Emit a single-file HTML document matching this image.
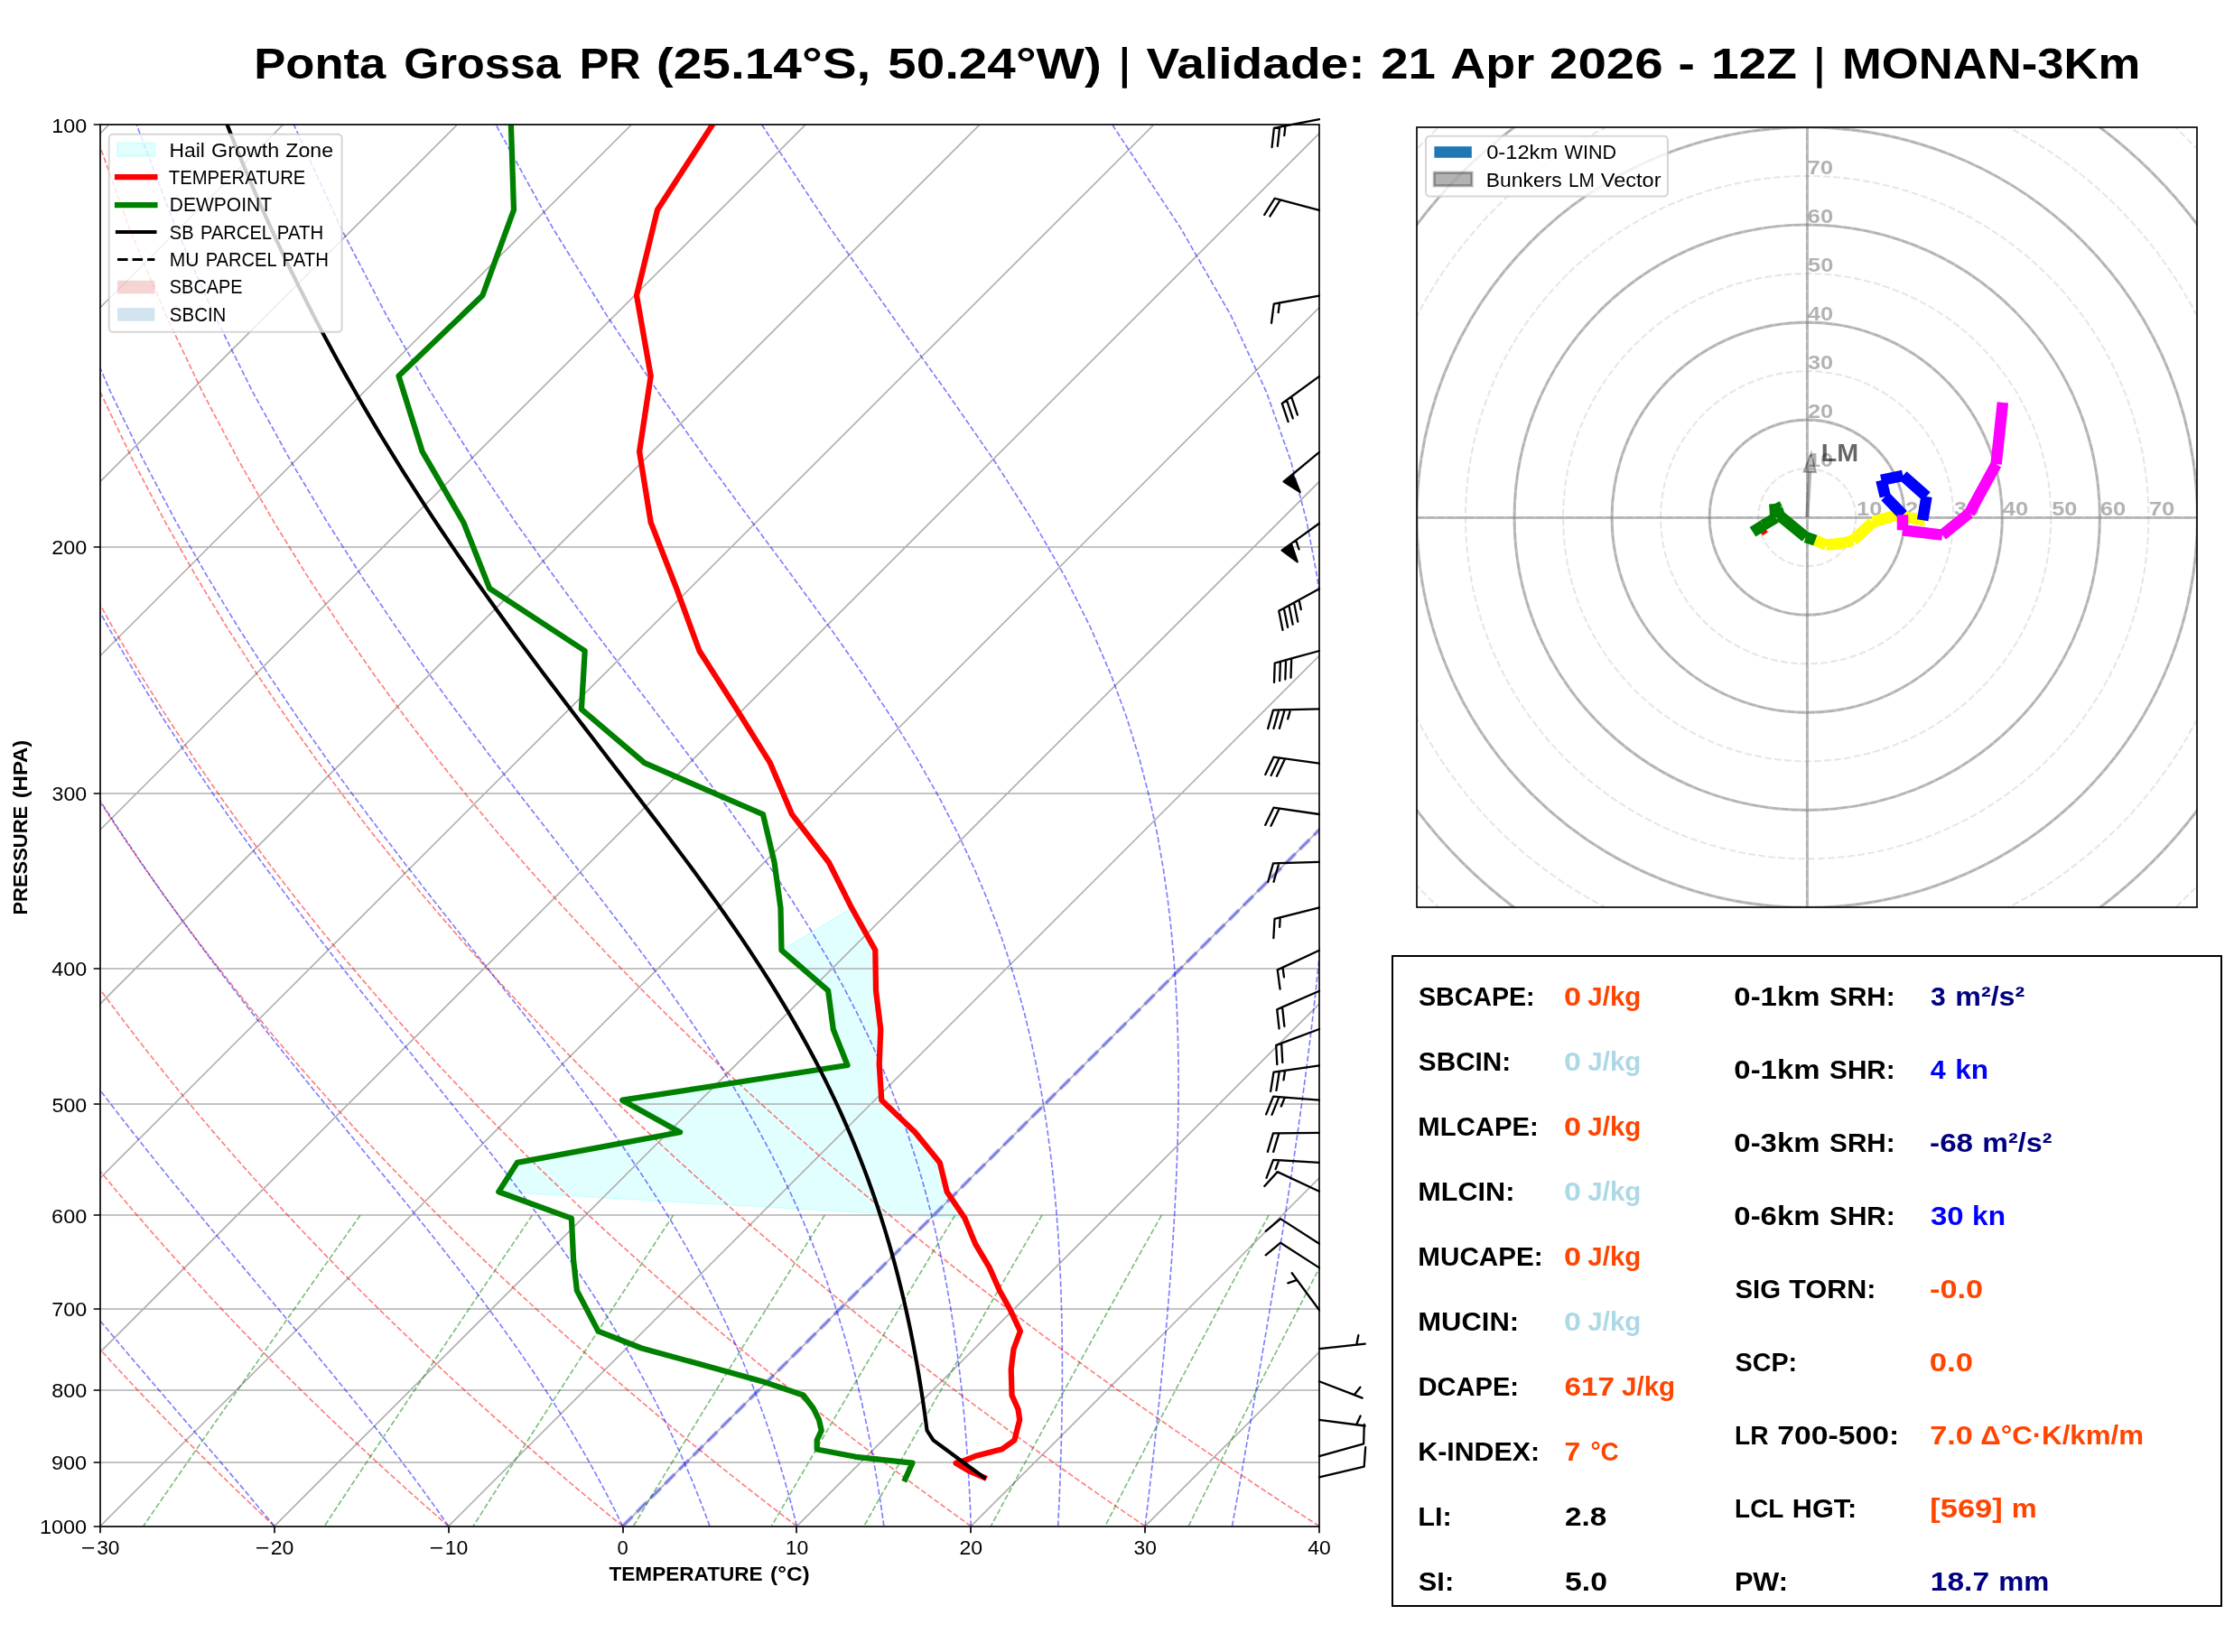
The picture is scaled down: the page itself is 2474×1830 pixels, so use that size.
<!DOCTYPE html>
<html><head><meta charset="utf-8"><title>Skew-T Ponta Grossa PR</title><style>html,body{margin:0;padding:0;background:#fff}svg{display:block;will-change:transform}svg text{font-family:"Liberation Sans",sans-serif}</style></head><body>
<svg width="2474" height="1830" viewBox="0 0 2474 1830" font-family="'Liberation Sans', sans-serif">
<rect width="2474" height="1830" fill="#fff"/>
<defs><clipPath id="ca"><rect x="111" y="138.2" width="1350" height="1552.4"/></clipPath>
<clipPath id="ch"><rect x="1569" y="141" width="864.4" height="864.4"/></clipPath></defs>
<text y="86.5" font-size="48.58" font-weight="bold" fill="#000"><tspan x="281.21" textLength="146.12" lengthAdjust="spacingAndGlyphs">Ponta</tspan> <tspan x="447.36" textLength="173.47" lengthAdjust="spacingAndGlyphs">Grossa</tspan> <tspan x="641.73" textLength="67.96" lengthAdjust="spacingAndGlyphs">PR</tspan> <tspan x="726.72" textLength="237.71" lengthAdjust="spacingAndGlyphs">(25.14°S,</tspan> <tspan x="983.13" textLength="236.75" lengthAdjust="spacingAndGlyphs">50.24°W)</tspan> <tspan x="1239.87" textLength="11.24" lengthAdjust="spacingAndGlyphs">|</tspan> <tspan x="1269.6" textLength="242" lengthAdjust="spacingAndGlyphs">Validade:</tspan> <tspan x="1529.19" textLength="60.72" lengthAdjust="spacingAndGlyphs">21</tspan> <tspan x="1606.31" textLength="92.84" lengthAdjust="spacingAndGlyphs">Apr</tspan> <tspan x="1716.02" textLength="125.72" lengthAdjust="spacingAndGlyphs">2026</tspan> <tspan x="1858.54" textLength="18.35" lengthAdjust="spacingAndGlyphs">-</tspan> <tspan x="1894.98" textLength="94.92" lengthAdjust="spacingAndGlyphs">12Z</tspan> <tspan x="2009.16" textLength="11.24" lengthAdjust="spacingAndGlyphs">|</tspan> <tspan x="2039.94" textLength="330.37" lengthAdjust="spacingAndGlyphs">MONAN-3Km</tspan></text>
<g clip-path="url(#ca)" fill="none">
<path d="M943.2 1005.8 L969.3 1052.6 L970 1097.4 L975.3 1140.3 L973.7 1179 L976.3 1218.7 L1013.4 1254.3 L1040.8 1287.9 L1048.7 1320.2 L1068.5 1349.6 L552.3 1320.2 L572.8 1287.9 L753.1 1254.3 L689.2 1218.7 L938.5 1180 L922.8 1140.3 L917.1 1097.4 L865.5 1052.6 Z" fill="#00ffff" fill-opacity="0.115" stroke="#00ffff" stroke-opacity="0.2" stroke-width="1"/>
<path d="M111 138 H1461 M111 606 H1461 M111 879 H1461 M111 1073 H1461 M111 1223 H1461 M111 1346 H1461 M111 1450 H1461 M111 1540 H1461 M111 1620 H1461 M111 1691 H1461 M-1624.71 1690.6 L-72.31 138.2 M-1431.86 1690.6 L120.54 138.2 M-1239 1690.6 L313.4 138.2 M-1046.14 1690.6 L506.26 138.2 M-853.29 1690.6 L699.11 138.2 M-660.43 1690.6 L891.97 138.2 M-467.57 1690.6 L1084.83 138.2 M-274.71 1690.6 L1277.69 138.2 M-81.86 1690.6 L1470.54 138.2 M111 1690.6 L1663.4 138.2 M303.86 1690.6 L1856.26 138.2 M496.71 1690.6 L2049.11 138.2 M689.57 1690.6 L2241.97 138.2 M882.43 1690.6 L2434.83 138.2 M1075.29 1690.6 L2627.69 138.2 M1268.14 1690.6 L2820.54 138.2 M1461 1690.6 L3013.4 138.2" stroke="#b0b0b0" stroke-width="1.67"/>
<path d="M111 1690.6 L98.73 1678.1 L86.36 1665.37 L73.89 1652.39 L61.32 1639.15 L48.64 1625.65 L35.86 1611.88 L22.98 1597.82 L9.98 1583.45 L-3.13 1568.78 L-16.35 1553.78 L-29.68 1538.43 L-43.14 1522.73 L-56.71 1506.66 L-70.41 1490.19 L-84.23 1473.31 L-98.18 1456 L-112.26 1438.23 L-126.48 1419.98 L-140.83 1401.22 L-155.31 1381.93 L-169.94 1362.07 L-184.7 1341.6 L-199.61 1320.49 L-214.67 1298.7 L-229.87 1276.19 L-245.22 1252.89 L-260.72 1228.76 L-276.37 1203.74 L-292.17 1177.75 L-308.12 1150.72 L-324.21 1122.56 L-340.44 1093.17 L-356.82 1062.44 L-373.31 1030.24 L-389.93 996.43 L-406.65 960.84 L-423.45 923.25 L-440.31 883.45 L-457.18 841.16 L-474.03 796.03 L-490.79 747.66 L-507.36 695.55 L-523.63 639.07 L-539.42 577.42 L-554.5 509.57 L-568.51 434.11 L-580.92 349.14 L-590.9 251.89 L-597.1 138.2 M303.86 1690.6 L290.56 1678.1 L277.16 1665.37 L263.65 1652.39 L250.01 1639.15 L236.26 1625.65 L222.39 1611.88 L208.4 1597.82 L194.28 1583.45 L180.03 1568.78 L165.65 1553.78 L151.13 1538.43 L136.48 1522.73 L121.68 1506.66 L106.74 1490.19 L91.66 1473.31 L76.42 1456 L61.03 1438.23 L45.48 1419.98 L29.77 1401.22 L13.9 1381.93 L-2.14 1362.07 L-18.36 1341.6 L-34.75 1320.49 L-51.32 1298.7 L-68.08 1276.19 L-85.02 1252.89 L-102.15 1228.76 L-119.47 1203.74 L-136.99 1177.75 L-154.7 1150.72 L-172.61 1122.56 L-190.72 1093.17 L-209.03 1062.44 L-227.53 1030.24 L-246.22 996.43 L-265.09 960.84 L-284.13 923.25 L-303.32 883.45 L-322.63 841.16 L-342.03 796.03 L-361.46 747.66 L-380.86 695.55 L-400.12 639.07 L-419.09 577.42 L-437.58 509.57 L-455.27 434.11 L-471.69 349.14 L-486.08 251.89 L-497.21 138.2 M496.71 1690.6 L482.4 1678.1 L467.97 1665.37 L453.4 1652.39 L438.71 1639.15 L423.88 1625.65 L408.92 1611.88 L393.82 1597.82 L378.57 1583.45 L363.18 1568.78 L347.64 1553.78 L331.94 1538.43 L316.09 1522.73 L300.08 1506.66 L283.9 1490.19 L267.55 1473.31 L251.03 1456 L234.33 1438.23 L217.44 1419.98 L200.37 1401.22 L183.11 1381.93 L165.65 1362.07 L147.98 1341.6 L130.11 1320.49 L112.02 1298.7 L93.72 1276.19 L75.19 1252.89 L56.43 1228.76 L37.43 1203.74 L18.2 1177.75 L-1.28 1150.72 L-21.02 1122.56 L-41 1093.17 L-61.25 1062.44 L-81.75 1030.24 L-102.52 996.43 L-123.54 960.84 L-144.81 923.25 L-166.33 883.45 L-188.08 841.16 L-210.02 796.03 L-232.13 747.66 L-254.35 695.55 L-276.61 639.07 L-298.77 577.42 L-320.67 509.57 L-342.04 434.11 L-362.46 349.14 L-381.26 251.89 L-397.32 138.2 M689.57 1690.6 L674.24 1678.1 L658.77 1665.37 L643.16 1652.39 L627.41 1639.15 L611.51 1625.65 L595.45 1611.88 L579.24 1597.82 L562.87 1583.45 L546.33 1568.78 L529.63 1553.78 L512.76 1538.43 L495.71 1522.73 L478.47 1506.66 L461.05 1490.19 L443.44 1473.31 L425.63 1456 L407.62 1438.23 L389.4 1419.98 L370.97 1401.22 L352.32 1381.93 L333.44 1362.07 L314.33 1341.6 L294.97 1320.49 L275.37 1298.7 L255.51 1276.19 L235.39 1252.89 L215 1228.76 L194.34 1203.74 L173.38 1177.75 L152.13 1150.72 L130.58 1122.56 L108.72 1093.17 L86.53 1062.44 L64.03 1030.24 L41.19 996.43 L18.01 960.84 L-5.5 923.25 L-29.34 883.45 L-53.52 841.16 L-78.02 796.03 L-102.81 747.66 L-127.85 695.55 L-153.09 639.07 L-178.44 577.42 L-203.75 509.57 L-228.8 434.11 L-253.23 349.14 L-276.44 251.89 L-297.43 138.2 M882.43 1690.6 L866.08 1678.1 L849.58 1665.37 L832.92 1652.39 L816.11 1639.15 L799.13 1625.65 L781.98 1611.88 L764.66 1597.82 L747.16 1583.45 L729.49 1568.78 L711.62 1553.78 L693.57 1538.43 L675.32 1522.73 L656.87 1506.66 L638.21 1490.19 L619.33 1473.31 L600.24 1456 L580.92 1438.23 L561.37 1419.98 L541.57 1401.22 L521.53 1381.93 L501.23 1362.07 L480.67 1341.6 L459.83 1320.49 L438.72 1298.7 L417.31 1276.19 L395.6 1252.89 L373.58 1228.76 L351.24 1203.74 L328.57 1177.75 L305.55 1150.72 L282.18 1122.56 L258.44 1093.17 L234.32 1062.44 L209.81 1030.24 L184.9 996.43 L159.57 960.84 L133.82 923.25 L107.64 883.45 L81.03 841.16 L53.99 796.03 L26.52 747.66 L-1.35 695.55 L-29.58 639.07 L-58.12 577.42 L-86.84 509.57 L-115.57 434.11 L-144 349.14 L-171.62 251.89 L-197.54 138.2 M1075.29 1690.6 L1057.92 1678.1 L1040.39 1665.37 L1022.68 1652.39 L1004.8 1639.15 L986.75 1625.65 L968.51 1611.88 L950.08 1597.82 L931.46 1583.45 L912.64 1568.78 L893.62 1553.78 L874.38 1538.43 L854.93 1522.73 L835.26 1506.66 L815.36 1490.19 L795.22 1473.31 L774.85 1456 L754.22 1438.23 L733.33 1419.98 L712.17 1401.22 L690.74 1381.93 L669.02 1362.07 L647.01 1341.6 L624.69 1320.49 L602.06 1298.7 L579.1 1276.19 L555.81 1252.89 L532.16 1228.76 L508.14 1203.74 L483.75 1177.75 L458.96 1150.72 L433.77 1122.56 L408.16 1093.17 L382.1 1062.44 L355.59 1030.24 L328.6 996.43 L301.12 960.84 L273.14 923.25 L244.63 883.45 L215.59 841.16 L186 796.03 L155.85 747.66 L125.15 695.55 L93.93 639.07 L62.21 577.42 L30.08 509.57 L-2.33 434.11 L-34.77 349.14 L-66.8 251.89 L-97.65 138.2 M1268.14 1690.6 L1249.76 1678.1 L1231.19 1665.37 L1212.44 1652.39 L1193.5 1639.15 L1174.37 1625.65 L1155.04 1611.88 L1135.5 1597.82 L1115.76 1583.45 L1095.79 1568.78 L1075.61 1553.78 L1055.2 1538.43 L1034.55 1522.73 L1013.66 1506.66 L992.52 1490.19 L971.12 1473.31 L949.45 1456 L927.51 1438.23 L905.29 1419.98 L882.77 1401.22 L859.95 1381.93 L836.81 1362.07 L813.35 1341.6 L789.56 1320.49 L765.41 1298.7 L740.9 1276.19 L716.01 1252.89 L690.73 1228.76 L665.04 1203.74 L638.93 1177.75 L612.38 1150.72 L585.37 1122.56 L557.88 1093.17 L529.88 1062.44 L501.37 1030.24 L472.31 996.43 L442.68 960.84 L412.46 923.25 L381.62 883.45 L350.14 841.16 L318 796.03 L285.18 747.66 L251.66 695.55 L217.44 639.07 L182.53 577.42 L146.99 509.57 L110.91 434.11 L74.46 349.14 L38.02 251.89 L2.24 138.2 M1461 1690.6 L1441.6 1678.1 L1422 1665.37 L1402.2 1652.39 L1382.2 1639.15 L1361.99 1625.65 L1341.57 1611.88 L1320.92 1597.82 L1300.05 1583.45 L1278.95 1568.78 L1257.6 1553.78 L1236.01 1538.43 L1214.16 1522.73 L1192.05 1506.66 L1169.67 1490.19 L1147.01 1473.31 L1124.06 1456 L1100.81 1438.23 L1077.25 1419.98 L1053.37 1401.22 L1029.16 1381.93 L1004.61 1362.07 L979.7 1341.6 L954.42 1320.49 L928.75 1298.7 L902.69 1276.19 L876.22 1252.89 L849.31 1228.76 L821.95 1203.74 L794.12 1177.75 L765.8 1150.72 L736.97 1122.56 L707.6 1093.17 L677.67 1062.44 L647.15 1030.24 L616.01 996.43 L584.23 960.84 L551.78 923.25 L518.61 883.45 L484.7 841.16 L450.01 796.03 L414.5 747.66 L378.16 695.55 L340.95 639.07 L302.86 577.42 L263.91 509.57 L224.14 434.11 L183.69 349.14 L142.84 251.89 L102.13 138.2" stroke="#f00" stroke-opacity="0.5" stroke-width="1.67" stroke-dasharray="6.17 2.67"/>
<path d="M111 1690.6 L100.08 1678.1 L88.96 1665.37 L77.66 1652.39 L66.16 1639.15 L54.47 1625.65 L42.59 1611.88 L30.52 1597.82 L18.26 1583.45 L5.82 1568.78 L-6.81 1553.78 L-19.62 1538.43 L-32.61 1522.73 L-45.78 1506.66 L-59.12 1490.19 L-72.65 1473.31 L-86.35 1456 L-100.23 1438.23 L-114.28 1419.98 L-128.5 1401.22 L-142.89 1381.93 L-157.46 1362.07 L-172.19 1341.6 L-187.09 1320.49 L-202.17 1298.7 L-217.41 1276.19 L-232.81 1252.89 L-248.38 1228.76 L-264.12 1203.74 L-280.02 1177.75 L-296.08 1150.72 L-312.29 1122.56 L-328.66 1093.17 L-345.17 1062.44 L-361.82 1030.24 L-378.59 996.43 L-395.48 960.84 L-412.45 923.25 L-429.49 883.45 L-446.56 841.16 L-463.61 796.03 L-480.58 747.66 L-497.37 695.55 L-513.87 639.07 L-529.92 577.42 L-545.27 509.57 L-559.57 434.11 L-572.3 349.14 L-582.63 251.89 L-589.21 138.2 M303.86 1690.6 L293.52 1678.1 L282.9 1665.37 L272.01 1652.39 L260.84 1639.15 L249.39 1625.65 L237.65 1611.88 L225.64 1597.82 L213.34 1583.45 L200.77 1568.78 L187.91 1553.78 L174.77 1538.43 L161.36 1522.73 L147.66 1506.66 L133.7 1490.19 L119.47 1473.31 L104.96 1456 L90.19 1438.23 L75.16 1419.98 L59.87 1401.22 L44.33 1381.93 L28.53 1362.07 L12.48 1341.6 L-3.81 1320.49 L-20.35 1298.7 L-37.13 1276.19 L-54.15 1252.89 L-71.42 1228.76 L-88.91 1203.74 L-106.64 1177.75 L-124.61 1150.72 L-142.8 1122.56 L-161.22 1093.17 L-179.87 1062.44 L-198.73 1030.24 L-217.81 996.43 L-237.09 960.84 L-256.56 923.25 L-276.2 883.45 L-295.99 841.16 L-315.89 796.03 L-335.85 747.66 L-355.8 695.55 L-375.65 639.07 L-395.26 577.42 L-414.43 509.57 L-432.85 434.11 L-450.06 349.14 L-465.32 251.89 L-477.43 138.2 M496.71 1690.6 L488.02 1678.1 L478.99 1665.37 L469.63 1652.39 L459.92 1639.15 L449.85 1625.65 L439.41 1611.88 L428.6 1597.82 L417.4 1583.45 L405.81 1568.78 L393.81 1553.78 L381.41 1538.43 L368.6 1522.73 L355.38 1506.66 L341.73 1490.19 L327.67 1473.31 L313.19 1456 L298.28 1438.23 L282.96 1419.98 L267.23 1401.22 L251.08 1381.93 L234.53 1362.07 L217.58 1341.6 L200.23 1320.49 L182.5 1298.7 L164.38 1276.19 L145.89 1252.89 L127.02 1228.76 L107.8 1203.74 L88.22 1177.75 L68.28 1150.72 L48 1122.56 L27.38 1093.17 L6.42 1062.44 L-14.87 1030.24 L-36.49 996.43 L-58.43 960.84 L-80.68 923.25 L-103.24 883.45 L-126.08 841.16 L-149.18 796.03 L-172.52 747.66 L-196.04 695.55 L-219.67 639.07 L-243.3 577.42 L-266.77 509.57 L-289.83 434.11 L-312.1 349.14 L-332.94 251.89 L-351.27 138.2 M689.57 1690.6 L683.47 1678.1 L677.08 1665.37 L670.37 1652.39 L663.33 1639.15 L655.95 1625.65 L648.19 1611.88 L640.04 1597.82 L631.49 1583.45 L622.5 1568.78 L613.06 1553.78 L603.15 1538.43 L592.74 1522.73 L581.82 1506.66 L570.35 1490.19 L558.32 1473.31 L545.7 1456 L532.49 1438.23 L518.66 1419.98 L504.2 1401.22 L489.09 1381.93 L473.32 1362.07 L456.89 1341.6 L439.8 1320.49 L422.03 1298.7 L403.6 1276.19 L384.52 1252.89 L364.78 1228.76 L344.4 1203.74 L323.39 1177.75 L301.77 1150.72 L279.55 1122.56 L256.75 1093.17 L233.38 1062.44 L209.45 1030.24 L184.99 996.43 L160 960.84 L134.49 923.25 L108.47 883.45 L81.97 841.16 L54.99 796.03 L27.55 747.66 L-0.31 695.55 L-28.55 639.07 L-57.1 577.42 L-85.85 509.57 L-114.6 434.11 L-143.07 349.14 L-170.73 251.89 L-196.69 138.2 M786 1690.6 L781.39 1678.1 L776.53 1665.37 L771.4 1652.39 L765.99 1639.15 L760.28 1625.65 L754.25 1611.88 L747.88 1597.82 L741.14 1583.45 L734 1568.78 L726.46 1553.78 L718.47 1538.43 L710 1522.73 L701.04 1506.66 L691.54 1490.19 L681.47 1473.31 L670.8 1456 L659.51 1438.23 L647.54 1419.98 L634.87 1401.22 L621.47 1381.93 L607.3 1362.07 L592.34 1341.6 L576.57 1320.49 L559.95 1298.7 L542.47 1276.19 L524.12 1252.89 L504.9 1228.76 L484.8 1203.74 L463.82 1177.75 L441.99 1150.72 L419.31 1122.56 L395.8 1093.17 L371.49 1062.44 L346.4 1030.24 L320.55 996.43 L293.98 960.84 L266.69 923.25 L238.72 883.45 L210.09 841.16 L180.81 796.03 L150.91 747.66 L120.4 695.55 L89.34 639.07 L57.77 577.42 L25.78 509.57 L-6.49 434.11 L-38.78 349.14 L-70.65 251.89 L-101.32 138.2 M882.43 1690.6 L879.3 1678.1 L875.98 1665.37 L872.46 1652.39 L868.72 1639.15 L864.75 1625.65 L860.52 1611.88 L856.03 1597.82 L851.24 1583.45 L846.13 1568.78 L840.69 1553.78 L834.88 1538.43 L828.67 1522.73 L822.04 1506.66 L814.94 1490.19 L807.35 1473.31 L799.22 1456 L790.5 1438.23 L781.16 1419.98 L771.14 1401.22 L760.4 1381.93 L748.88 1362.07 L736.52 1341.6 L723.28 1320.49 L709.09 1298.7 L693.91 1276.19 L677.67 1252.89 L660.35 1228.76 L641.89 1203.74 L622.26 1177.75 L601.44 1150.72 L579.43 1122.56 L556.21 1093.17 L531.8 1062.44 L506.23 1030.24 L479.52 996.43 L451.71 960.84 L422.85 923.25 L392.97 883.45 L362.12 841.16 L330.33 796.03 L297.66 747.66 L264.12 695.55 L229.77 639.07 L194.63 577.42 L158.8 509.57 L122.36 434.11 L85.52 349.14 L48.63 251.89 L12.36 138.2 M978.86 1690.6 L977.13 1678.1 L975.27 1665.37 L973.27 1652.39 L971.13 1639.15 L968.82 1625.65 L966.34 1611.88 L963.67 1597.82 L960.8 1583.45 L957.7 1568.78 L954.36 1553.78 L950.76 1538.43 L946.87 1522.73 L942.66 1506.66 L938.11 1490.19 L933.18 1473.31 L927.84 1456 L922.05 1438.23 L915.77 1419.98 L908.93 1401.22 L901.5 1381.93 L893.41 1362.07 L884.6 1341.6 L874.98 1320.49 L864.5 1298.7 L853.06 1276.19 L840.57 1252.89 L826.95 1228.76 L812.08 1203.74 L795.88 1177.75 L778.25 1150.72 L759.1 1122.56 L738.35 1093.17 L715.93 1062.44 L691.8 1030.24 L665.94 996.43 L638.34 960.84 L609.04 923.25 L578.08 883.45 L545.54 841.16 L511.48 796.03 L476 747.66 L439.17 695.55 L401.06 639.07 L361.75 577.42 L321.31 509.57 L279.83 434.11 L237.45 349.14 L194.44 251.89 L151.31 138.2 M1075.29 1690.6 L1074.81 1678.1 L1074.26 1665.37 L1073.63 1652.39 L1072.92 1639.15 L1072.12 1625.65 L1071.21 1611.88 L1070.2 1597.82 L1069.06 1583.45 L1067.79 1568.78 L1066.38 1553.78 L1064.81 1538.43 L1063.06 1522.73 L1061.11 1506.66 L1058.96 1490.19 L1056.56 1473.31 L1053.9 1456 L1050.95 1438.23 L1047.68 1419.98 L1044.05 1401.22 L1040.01 1381.93 L1035.52 1362.07 L1030.52 1341.6 L1024.96 1320.49 L1018.77 1298.7 L1011.85 1276.19 L1004.13 1252.89 L995.5 1228.76 L985.84 1203.74 L975.02 1177.75 L962.89 1150.72 L949.29 1122.56 L934.05 1093.17 L916.97 1062.44 L897.86 1030.24 L876.54 996.43 L852.82 960.84 L826.56 923.25 L797.66 883.45 L766.07 841.16 L731.8 796.03 L694.94 747.66 L655.61 695.55 L613.98 639.07 L570.22 577.42 L524.5 509.57 L476.97 434.11 L427.79 349.14 L377.16 251.89 L325.46 138.2 M1171.71 1690.6 L1172.31 1678.1 L1172.89 1665.37 L1173.44 1652.39 L1173.96 1639.15 L1174.44 1625.65 L1174.88 1611.88 L1175.28 1597.82 L1175.63 1583.45 L1175.92 1568.78 L1176.16 1553.78 L1176.32 1538.43 L1176.4 1522.73 L1176.39 1506.66 L1176.29 1490.19 L1176.07 1473.31 L1175.72 1456 L1175.23 1438.23 L1174.57 1419.98 L1173.74 1401.22 L1172.69 1381.93 L1171.41 1362.07 L1169.85 1341.6 L1167.99 1320.49 L1165.77 1298.7 L1163.14 1276.19 L1160.05 1252.89 L1156.42 1228.76 L1152.16 1203.74 L1147.17 1177.75 L1141.34 1150.72 L1134.51 1122.56 L1126.53 1093.17 L1117.19 1062.44 L1106.24 1030.24 L1093.41 996.43 L1078.36 960.84 L1060.73 923.25 L1040.1 883.45 L1016.03 841.16 L988.09 796.03 L955.91 747.66 L919.24 695.55 L877.99 639.07 L832.29 577.42 L782.41 509.57 L728.75 434.11 L671.73 349.14 L611.75 251.89 L549.2 138.2 M1268.14 1690.6 L1269.64 1678.1 L1271.14 1665.37 L1272.66 1652.39 L1274.19 1639.15 L1275.73 1625.65 L1277.28 1611.88 L1278.83 1597.82 L1280.4 1583.45 L1281.96 1568.78 L1283.53 1553.78 L1285.1 1538.43 L1286.66 1522.73 L1288.22 1506.66 L1289.76 1490.19 L1291.28 1473.31 L1292.79 1456 L1294.26 1438.23 L1295.7 1419.98 L1297.09 1401.22 L1298.43 1381.93 L1299.7 1362.07 L1300.89 1341.6 L1301.97 1320.49 L1302.94 1298.7 L1303.76 1276.19 L1304.41 1252.89 L1304.85 1228.76 L1305.04 1203.74 L1304.93 1177.75 L1304.45 1150.72 L1303.53 1122.56 L1302.08 1093.17 L1299.97 1062.44 L1297.07 1030.24 L1293.18 996.43 L1288.07 960.84 L1281.45 923.25 L1272.93 883.45 L1262.03 841.16 L1248.11 796.03 L1230.4 747.66 L1207.92 695.55 L1179.54 639.07 L1144.09 577.42 L1100.51 509.57 L1048.22 434.11 L987.36 349.14 L918.76 251.89 L843.63 138.2 M1364.57 1690.6 L1366.78 1678.1 L1369.04 1665.37 L1371.33 1652.39 L1373.67 1639.15 L1376.05 1625.65 L1378.47 1611.88 L1380.94 1597.82 L1383.46 1583.45 L1386.02 1568.78 L1388.63 1553.78 L1391.3 1538.43 L1394.01 1522.73 L1396.77 1506.66 L1399.58 1490.19 L1402.45 1473.31 L1405.36 1456 L1408.33 1438.23 L1411.36 1419.98 L1414.44 1401.22 L1417.57 1381.93 L1420.74 1362.07 L1423.97 1341.6 L1427.25 1320.49 L1430.56 1298.7 L1433.91 1276.19 L1437.3 1252.89 L1440.71 1228.76 L1444.13 1203.74 L1447.54 1177.75 L1450.94 1150.72 L1454.29 1122.56 L1457.58 1093.17 L1460.74 1062.44 L1463.74 1030.24 L1466.51 996.43 L1468.96 960.84 L1470.96 923.25 L1472.36 883.45 L1472.94 841.16 L1472.39 796.03 L1470.29 747.66 L1466.02 695.55 L1458.71 639.07 L1447.06 577.42 L1429.19 509.57 L1402.37 434.11 L1362.99 349.14 L1307.01 251.89 L1231.77 138.2 M1461 1690.6 L1463.77 1678.1 L1466.61 1665.37 L1469.5 1652.39 L1472.47 1639.15 L1475.49 1625.65 L1478.59 1611.88 L1481.76 1597.82 L1485 1583.45 L1488.33 1568.78 L1491.73 1553.78 L1495.22 1538.43 L1498.8 1522.73 L1502.46 1506.66 L1506.23 1490.19 L1510.09 1473.31 L1514.05 1456 L1518.12 1438.23 L1522.31 1419.98 L1526.61 1401.22 L1531.04 1381.93 L1535.6 1362.07 L1540.29 1341.6 L1545.12 1320.49 L1550.09 1298.7 L1555.23 1276.19 L1560.52 1252.89 L1565.98 1228.76 L1571.62 1203.74 L1577.45 1177.75 L1583.48 1150.72 L1589.69 1122.56 L1596.12 1093.17 L1602.75 1062.44 L1609.61 1030.24 L1616.68 996.43 L1623.98 960.84 L1631.48 923.25 L1639.18 883.45 L1647.04 841.16 L1655.01 796.03 L1663 747.66 L1670.87 695.55 L1678.4 639.07 L1685.2 577.42 L1690.64 509.57 L1693.64 434.11 L1692.24 349.14 L1682.77 251.89 L1658.19 138.2" stroke="#00f" stroke-opacity="0.5" stroke-width="1.67" stroke-dasharray="6.17 2.67"/>
<path d="M398.93 1346.2 L392.51 1355.31 L386.17 1364.3 L379.92 1373.17 L373.76 1381.93 L367.68 1390.57 L361.68 1399.11 L355.76 1407.54 L349.91 1415.86 L344.14 1424.08 L338.44 1432.2 L332.81 1440.23 L327.25 1448.16 L321.76 1456 L316.33 1463.75 L310.97 1471.41 L305.67 1478.99 L300.43 1486.48 L295.25 1493.89 L290.13 1501.22 L285.07 1508.47 L280.06 1515.64 L275.11 1522.73 L270.22 1529.76 L265.37 1536.71 L260.58 1543.59 L255.83 1550.4 L251.14 1557.14 L246.5 1563.82 L241.9 1570.43 L237.35 1576.97 L232.84 1583.45 L228.38 1589.87 L223.97 1596.24 L219.59 1602.54 L215.26 1608.78 L210.97 1614.96 L206.72 1621.09 L202.51 1627.17 L198.35 1633.19 L194.21 1639.15 L190.12 1645.07 L186.06 1650.93 L182.05 1656.74 L178.06 1662.5 L174.11 1668.22 L170.2 1673.88 L166.32 1679.5 L162.47 1685.07 L158.66 1690.6 M589.38 1346.2 L583.21 1355.31 L577.14 1364.3 L571.14 1373.17 L565.23 1381.93 L559.39 1390.57 L553.64 1399.11 L547.96 1407.54 L542.35 1415.86 L536.81 1424.08 L531.35 1432.2 L525.95 1440.23 L520.62 1448.16 L515.35 1456 L510.15 1463.75 L505.01 1471.41 L499.93 1478.99 L494.91 1486.48 L489.95 1493.89 L485.05 1501.22 L480.2 1508.47 L475.4 1515.64 L470.66 1522.73 L465.97 1529.76 L461.33 1536.71 L456.74 1543.59 L452.2 1550.4 L447.7 1557.14 L443.26 1563.82 L438.86 1570.43 L434.5 1576.97 L430.19 1583.45 L425.92 1589.87 L421.69 1596.24 L417.51 1602.54 L413.37 1608.78 L409.26 1614.96 L405.2 1621.09 L401.17 1627.17 L397.18 1633.19 L393.23 1639.15 L389.32 1645.07 L385.44 1650.93 L381.6 1656.74 L377.79 1662.5 L374.01 1668.22 L370.27 1673.88 L366.56 1679.5 L362.89 1685.07 L359.24 1690.6 M745.55 1346.2 L739.6 1355.31 L733.74 1364.3 L727.96 1373.17 L722.26 1381.93 L716.64 1390.57 L711.09 1399.11 L705.62 1407.54 L700.22 1415.86 L694.88 1424.08 L689.62 1432.2 L684.42 1440.23 L679.28 1448.16 L674.21 1456 L669.2 1463.75 L664.25 1471.41 L659.36 1478.99 L654.53 1486.48 L649.75 1493.89 L645.03 1501.22 L640.36 1508.47 L635.75 1515.64 L631.18 1522.73 L626.67 1529.76 L622.21 1536.71 L617.79 1543.59 L613.42 1550.4 L609.1 1557.14 L604.82 1563.82 L600.59 1570.43 L596.4 1576.97 L592.26 1583.45 L588.15 1589.87 L584.09 1596.24 L580.06 1602.54 L576.08 1608.78 L572.14 1614.96 L568.23 1621.09 L564.36 1627.17 L560.53 1633.19 L556.73 1639.15 L552.97 1645.07 L549.24 1650.93 L545.55 1656.74 L541.89 1662.5 L538.27 1668.22 L534.67 1673.88 L531.11 1679.5 L527.58 1685.07 L524.08 1690.6 M913.23 1346.2 L907.53 1355.31 L901.91 1364.3 L896.37 1373.17 L890.91 1381.93 L885.52 1390.57 L880.2 1399.11 L874.96 1407.54 L869.78 1415.86 L864.68 1424.08 L859.63 1432.2 L854.65 1440.23 L849.74 1448.16 L844.88 1456 L840.09 1463.75 L835.35 1471.41 L830.67 1478.99 L826.05 1486.48 L821.48 1493.89 L816.96 1501.22 L812.5 1508.47 L808.08 1515.64 L803.72 1522.73 L799.4 1529.76 L795.13 1536.71 L790.91 1543.59 L786.73 1550.4 L782.6 1557.14 L778.52 1563.82 L774.47 1570.43 L770.47 1576.97 L766.51 1583.45 L762.59 1589.87 L758.7 1596.24 L754.86 1602.54 L751.06 1608.78 L747.29 1614.96 L743.56 1621.09 L739.87 1627.17 L736.21 1633.19 L732.58 1639.15 L728.99 1645.07 L725.44 1650.93 L721.91 1656.74 L718.42 1662.5 L714.96 1668.22 L711.53 1673.88 L708.14 1679.5 L704.77 1685.07 L701.43 1690.6 M1057.61 1346.2 L1052.13 1355.31 L1046.73 1364.3 L1041.41 1373.17 L1036.16 1381.93 L1030.98 1390.57 L1025.87 1399.11 L1020.83 1407.54 L1015.86 1415.86 L1010.95 1424.08 L1006.11 1432.2 L1001.33 1440.23 L996.6 1448.16 L991.94 1456 L987.34 1463.75 L982.79 1471.41 L978.3 1478.99 L973.86 1486.48 L969.48 1493.89 L965.14 1501.22 L960.86 1508.47 L956.62 1515.64 L952.43 1522.73 L948.3 1529.76 L944.2 1536.71 L940.15 1543.59 L936.15 1550.4 L932.19 1557.14 L928.27 1563.82 L924.39 1570.43 L920.56 1576.97 L916.76 1583.45 L913 1589.87 L909.28 1596.24 L905.6 1602.54 L901.96 1608.78 L898.35 1614.96 L894.78 1621.09 L891.24 1627.17 L887.73 1633.19 L884.26 1639.15 L880.83 1645.07 L877.42 1650.93 L874.05 1656.74 L870.71 1662.5 L867.4 1668.22 L864.12 1673.88 L860.87 1679.5 L857.64 1685.07 L854.45 1690.6 M1154.02 1346.2 L1148.68 1355.31 L1143.43 1364.3 L1138.25 1373.17 L1133.15 1381.93 L1128.11 1390.57 L1123.14 1399.11 L1118.25 1407.54 L1113.41 1415.86 L1108.64 1424.08 L1103.94 1432.2 L1099.29 1440.23 L1094.7 1448.16 L1090.17 1456 L1085.7 1463.75 L1081.28 1471.41 L1076.92 1478.99 L1072.61 1486.48 L1068.35 1493.89 L1064.14 1501.22 L1059.98 1508.47 L1055.87 1515.64 L1051.8 1522.73 L1047.78 1529.76 L1043.81 1536.71 L1039.88 1543.59 L1035.99 1550.4 L1032.15 1557.14 L1028.35 1563.82 L1024.59 1570.43 L1020.86 1576.97 L1017.18 1583.45 L1013.54 1589.87 L1009.93 1596.24 L1006.36 1602.54 L1002.82 1608.78 L999.32 1614.96 L995.86 1621.09 L992.43 1627.17 L989.03 1633.19 L985.67 1639.15 L982.33 1645.07 L979.03 1650.93 L975.76 1656.74 L972.52 1662.5 L969.32 1668.22 L966.14 1673.88 L962.99 1679.5 L959.86 1685.07 L956.77 1690.6 M1286.29 1346.2 L1281.17 1355.31 L1276.12 1364.3 L1271.15 1373.17 L1266.25 1381.93 L1261.41 1390.57 L1256.65 1399.11 L1251.95 1407.54 L1247.31 1415.86 L1242.73 1424.08 L1238.22 1432.2 L1233.76 1440.23 L1229.36 1448.16 L1225.02 1456 L1220.73 1463.75 L1216.49 1471.41 L1212.31 1478.99 L1208.18 1486.48 L1204.1 1493.89 L1200.07 1501.22 L1196.08 1508.47 L1192.14 1515.64 L1188.25 1522.73 L1184.4 1529.76 L1180.59 1536.71 L1176.83 1543.59 L1173.11 1550.4 L1169.43 1557.14 L1165.79 1563.82 L1162.19 1570.43 L1158.63 1576.97 L1155.11 1583.45 L1151.62 1589.87 L1148.17 1596.24 L1144.75 1602.54 L1141.37 1608.78 L1138.03 1614.96 L1134.71 1621.09 L1131.43 1627.17 L1128.19 1633.19 L1124.97 1639.15 L1121.79 1645.07 L1118.63 1650.93 L1115.51 1656.74 L1112.41 1662.5 L1109.35 1668.22 L1106.31 1673.88 L1103.3 1679.5 L1100.32 1685.07 L1097.37 1690.6 M1405.04 1346.2 L1400.12 1355.31 L1395.26 1364.3 L1390.48 1373.17 L1385.77 1381.93 L1381.12 1390.57 L1376.54 1399.11 L1372.02 1407.54 L1367.56 1415.86 L1363.16 1424.08 L1358.82 1432.2 L1354.54 1440.23 L1350.31 1448.16 L1346.14 1456 L1342.02 1463.75 L1337.96 1471.41 L1333.94 1478.99 L1329.97 1486.48 L1326.06 1493.89 L1322.19 1501.22 L1318.36 1508.47 L1314.58 1515.64 L1310.85 1522.73 L1307.15 1529.76 L1303.51 1536.71 L1299.9 1543.59 L1296.33 1550.4 L1292.8 1557.14 L1289.31 1563.82 L1285.86 1570.43 L1282.45 1576.97 L1279.07 1583.45 L1275.73 1589.87 L1272.42 1596.24 L1269.15 1602.54 L1265.91 1608.78 L1262.71 1614.96 L1259.54 1621.09 L1256.39 1627.17 L1253.29 1633.19 L1250.21 1639.15 L1247.16 1645.07 L1244.14 1650.93 L1241.15 1656.74 L1238.19 1662.5 L1235.26 1668.22 L1232.35 1673.88 L1229.47 1679.5 L1226.62 1685.07 L1223.8 1690.6 M1491.71 1346.2 L1486.93 1355.31 L1482.22 1364.3 L1477.57 1373.17 L1473 1381.93 L1468.49 1390.57 L1464.04 1399.11 L1459.66 1407.54 L1455.34 1415.86 L1451.07 1424.08 L1446.86 1432.2 L1442.71 1440.23 L1438.62 1448.16 L1434.57 1456 L1430.58 1463.75 L1426.64 1471.41 L1422.75 1478.99 L1418.9 1486.48 L1415.11 1493.89 L1411.36 1501.22 L1407.65 1508.47 L1403.99 1515.64 L1400.38 1522.73 L1396.8 1529.76 L1393.27 1536.71 L1389.77 1543.59 L1386.32 1550.4 L1382.9 1557.14 L1379.53 1563.82 L1376.19 1570.43 L1372.88 1576.97 L1369.62 1583.45 L1366.38 1589.87 L1363.19 1596.24 L1360.02 1602.54 L1356.89 1608.78 L1353.79 1614.96 L1350.72 1621.09 L1347.69 1627.17 L1344.68 1633.19 L1341.7 1639.15 L1338.76 1645.07 L1335.84 1650.93 L1332.95 1656.74 L1330.09 1662.5 L1327.25 1668.22 L1324.45 1673.88 L1321.67 1679.5 L1318.91 1685.07 L1316.18 1690.6" stroke="#008000" stroke-opacity="0.5" stroke-width="1.67" stroke-dasharray="6.17 2.67"/>
<path d="M689.57 1690.6 L2241.97 138.2" stroke="#00f" stroke-opacity="0.32" stroke-width="4.17" stroke-dasharray="15.42 6.67"/>
<path d="M793 132 L728 232.5 L705 327.3 L720.7 416.5 L708.1 500.3 L720.7 578.7 L749.2 651.9 L774.5 721 L815.8 785.6 L852.9 845.2 L877.1 902.2 L918 955.5 L943.2 1005.8 L969.3 1052.6 L970 1097.4 L975.3 1140.3 L973.7 1179 L976.3 1218.7 L1013.4 1254.3 L1040.8 1287.9 L1048.7 1320.2 L1068.5 1349.6 L1080.1 1377.9 L1095.9 1404.4 L1106.9 1429.6 L1118.8 1451.1 L1129.9 1474.6 L1122.5 1494.5 L1119.7 1517 L1120.6 1545.6 L1127.5 1561 L1129.2 1572.7 L1123.4 1595.5 L1109.7 1605.3 L1079.9 1613.1 L1065.2 1618.8 L1058.5 1620.8 L1074.2 1630 L1089.8 1636.7" stroke="#f00" stroke-width="6.25" stroke-linejoin="round" stroke-linecap="square"/>
<path d="M565.7 132 L569 232.5 L534.4 327.3 L441.5 416.5 L467.7 500.3 L513.3 578.7 L542.2 651.9 L647.7 721 L643.9 785.6 L713.8 845.2 L845 902.2 L857.6 955.5 L864.5 1005.8 L865.5 1052.6 L917.1 1097.4 L922.8 1140.3 L938.5 1180 L689.2 1218.7 L753.1 1254.3 L572.8 1287.9 L552.3 1320.2 L632.9 1349.6 L635.1 1395.9 L638.9 1429.6 L662.5 1474.6 L710.6 1493.5 L800 1518 L844.8 1530.4 L889.6 1545.5 L900.7 1560 L907 1572.9 L909.7 1584.7 L904.7 1595.3 L904.7 1605.5 L947.7 1613.8 L1010.4 1620.6 L1002.5 1638.5" stroke="#008000" stroke-width="6.25" stroke-linejoin="round" stroke-linecap="square"/>
<path d="M1089.8 1636.7 L1067.86 1620.7 L1046.99 1605.3 L1033.56 1595.3 L1026.6 1584.6 L1025.06 1572.9 L1023.4 1561 L1021.6 1548.81 L1019.71 1536.62 L1017.72 1524.44 L1015.63 1512.25 L1013.43 1500.06 L1011.11 1487.87 L1008.69 1475.69 L1006.14 1463.5 L1003.48 1451.31 L1000.69 1439.12 L997.77 1426.94 L994.72 1414.75 L991.53 1402.56 L988.21 1390.37 L984.74 1378.19 L981.13 1366 L977.37 1353.81 L973.45 1341.62 L969.38 1329.44 L965.14 1317.25 L960.75 1305.06 L956.18 1292.87 L951.45 1280.69 L946.54 1268.5 L941.46 1256.31 L936.21 1244.12 L930.77 1231.94 L925.15 1219.75 L919.35 1207.56 L913.37 1195.37 L907.2 1183.18 L900.85 1171 L894.31 1158.81 L887.6 1146.62 L880.7 1134.43 L873.63 1122.25 L866.38 1110.06 L858.96 1097.87 L851.37 1085.68 L843.61 1073.5 L835.7 1061.31 L827.64 1049.12 L819.43 1036.93 L811.08 1024.75 L802.6 1012.56 L794 1000.37 L785.28 988.18 L776.46 976 L767.54 963.81 L758.53 951.62 L749.44 939.43 L740.28 927.25 L731.07 915.06 L721.8 902.87 L712.49 890.68 L703.15 878.5 L693.79 866.31 L684.41 854.12 L675.03 841.93 L665.65 829.75 L656.28 817.56 L646.92 805.37 L637.6 793.18 L628.3 780.99 L619.04 768.81 L609.83 756.62 L600.66 744.43 L591.55 732.24 L582.49 720.06 L573.5 707.87 L564.58 695.68 L555.72 683.49 L546.94 671.31 L538.24 659.12 L529.62 646.93 L521.07 634.74 L512.62 622.56 L504.24 610.37 L495.96 598.18 L487.76 585.99 L479.66 573.81 L471.64 561.62 L463.72 549.43 L455.89 537.24 L448.15 525.06 L440.51 512.87 L432.96 500.68 L425.51 488.49 L418.16 476.31 L410.9 464.12 L403.73 451.93 L396.66 439.74 L389.69 427.55 L382.81 415.37 L376.03 403.18 L369.34 390.99 L362.75 378.8 L356.25 366.62 L349.85 354.43 L343.54 342.24 L337.33 330.05 L331.21 317.87 L325.18 305.68 L319.25 293.49 L313.41 281.3 L307.66 269.12 L302 256.93 L296.44 244.74 L290.96 232.55 L285.58 220.37 L280.28 208.18 L275.08 195.99 L269.97 183.8 L264.94 171.62 L260 159.43 L255.16 147.24 L250.39 135.05 L245.72 122.87 L241.13 110.68" stroke="#000" stroke-width="4.17" stroke-linejoin="round" stroke-linecap="square"/>
</g>
<rect x="111" y="138" width="1350" height="1553" fill="none" stroke="#000" stroke-width="1.67"/>
<path d="M111 138 h-7.3 M111 606 h-7.3 M111 879 h-7.3 M111 1073 h-7.3 M111 1223 h-7.3 M111 1346 h-7.3 M111 1450 h-7.3 M111 1540 h-7.3 M111 1620 h-7.3 M111 1691 h-7.3 M111 1691 v7.3 M304 1691 v7.3 M497 1691 v7.3 M690 1691 v7.3 M882 1691 v7.3 M1075 1691 v7.3 M1268 1691 v7.3 M1461 1691 v7.3" stroke="#000" stroke-width="1.67" fill="none"/>
<text y="146.5" font-size="22.08" fill="#000"><tspan x="57.29" textLength="38.88" lengthAdjust="spacingAndGlyphs">100</tspan></text>
<text y="613.82" font-size="22.08" fill="#000"><tspan x="57.2" textLength="38.98" lengthAdjust="spacingAndGlyphs">200</tspan></text>
<text y="887.18" font-size="22.08" fill="#000"><tspan x="57.56" textLength="38.61" lengthAdjust="spacingAndGlyphs">300</tspan></text>
<text y="1081.14" font-size="22.08" fill="#000"><tspan x="57.35" textLength="38.82" lengthAdjust="spacingAndGlyphs">400</tspan></text>
<text y="1231.58" font-size="22.08" fill="#000"><tspan x="57.56" textLength="38.61" lengthAdjust="spacingAndGlyphs">500</tspan></text>
<text y="1354.5" font-size="22.08" fill="#000"><tspan x="57.11" textLength="39.06" lengthAdjust="spacingAndGlyphs">600</tspan></text>
<text y="1458.43" font-size="22.08" fill="#000"><tspan x="57.36" textLength="38.81" lengthAdjust="spacingAndGlyphs">700</tspan></text>
<text y="1548.46" font-size="22.08" fill="#000"><tspan x="57.22" textLength="38.96" lengthAdjust="spacingAndGlyphs">800</tspan></text>
<text y="1627.87" font-size="22.08" fill="#000"><tspan x="57.04" textLength="39.14" lengthAdjust="spacingAndGlyphs">900</tspan></text>
<text y="1698.9" font-size="22.08" fill="#000"><tspan x="44.03" textLength="52.15" lengthAdjust="spacingAndGlyphs">1000</tspan></text>
<text y="1722.2" font-size="22.08" fill="#000"><tspan x="89.85" textLength="15.7" lengthAdjust="spacingAndGlyphs">−</tspan><tspan x="107.21" textLength="25.32" lengthAdjust="spacingAndGlyphs">30</tspan></text>
<text y="1722.2" font-size="22.08" fill="#000"><tspan x="282.71" textLength="15.7" lengthAdjust="spacingAndGlyphs">−</tspan><tspan x="299.7" textLength="25.7" lengthAdjust="spacingAndGlyphs">20</tspan></text>
<text y="1722.2" font-size="22.08" fill="#000"><tspan x="475.56" textLength="15.7" lengthAdjust="spacingAndGlyphs">−</tspan><tspan x="492.67" textLength="25.59" lengthAdjust="spacingAndGlyphs">10</tspan></text>
<text y="1722.2" font-size="22.08" fill="#000"><tspan x="683.47" textLength="12.25" lengthAdjust="spacingAndGlyphs">0</tspan></text>
<text y="1722.2" font-size="22.08" fill="#000"><tspan x="869.66" textLength="25.59" lengthAdjust="spacingAndGlyphs">10</tspan></text>
<text y="1722.2" font-size="22.08" fill="#000"><tspan x="1062.4" textLength="25.7" lengthAdjust="spacingAndGlyphs">20</tspan></text>
<text y="1722.2" font-size="22.08" fill="#000"><tspan x="1255.63" textLength="25.32" lengthAdjust="spacingAndGlyphs">30</tspan></text>
<text y="1722.2" font-size="22.08" fill="#000"><tspan x="1448.26" textLength="25.55" lengthAdjust="spacingAndGlyphs">40</tspan></text>
<text y="1750.8" font-size="22.08" font-weight="bold" fill="#000"><tspan x="674.5" textLength="170.13" lengthAdjust="spacingAndGlyphs">TEMPERATURE</tspan> <tspan x="853.12" textLength="43.57" lengthAdjust="spacingAndGlyphs">(°C)</tspan></text>
<text y="0" font-size="22.08" font-weight="bold" fill="#000" transform="translate(30.3 916.5) rotate(-90)"><tspan x="-97.01" textLength="120.61" lengthAdjust="spacingAndGlyphs">PRESSURE</tspan> <tspan x="32.15" textLength="64.68" lengthAdjust="spacingAndGlyphs">(HPA)</tspan></text>
<path d="M1461 132.1 L1410.91 141.92 L1408.58 163.18 L1410.91 141.92 L1417.17 140.69 L1414.84 161.95 L1417.17 140.69 L1423.43 139.46 L1422.27 150.09 L1423.43 139.46 L1461 132.1 Z M1461 232.9 L1411.68 219.75 L1400.26 237.83 L1411.68 219.75 L1417.85 221.39 L1406.42 239.48 L1417.85 221.39 L1461 232.9 Z M1461 327.6 L1410.75 336.54 L1408.04 357.76 L1410.75 336.54 L1417.03 335.42 L1415.68 346.03 L1417.03 335.42 L1461 327.6 Z M1461 416.9 L1419.74 446.95 L1426.6 467.21 L1419.74 446.95 L1424.9 443.19 L1431.76 463.45 L1424.9 443.19 L1430.05 439.43 L1436.91 459.69 L1430.05 439.43 L1461 416.9 Z M1461 500.9 L1421.72 533.5 L1439.67 545.13 L1431.54 525.35 L1461 500.9 Z M1461 579.7 L1419.6 609.56 L1436.72 622.38 L1429.95 602.09 L1435.13 598.36 L1438.51 608.51 L1435.13 598.36 L1461 579.7 Z M1461 652.3 L1416.25 676.84 L1420.47 697.81 L1416.25 676.84 L1421.84 673.78 L1426.07 694.75 L1421.84 673.78 L1427.44 670.71 L1431.66 691.68 L1427.44 670.71 L1433.03 667.64 L1437.25 688.61 L1433.03 667.64 L1438.62 664.57 L1440.74 675.06 L1438.62 664.57 L1461 652.3 Z M1461 721 L1411.77 734.49 L1411.01 755.87 L1411.77 734.49 L1417.93 732.8 L1417.17 754.18 L1417.93 732.8 L1424.08 731.12 L1423.32 752.49 L1424.08 731.12 L1430.23 729.43 L1429.47 750.81 L1430.23 729.43 L1461 721 Z M1461 785.3 L1409.97 786.58 L1404.11 807.15 L1409.97 786.58 L1416.35 786.42 L1410.48 806.99 L1416.35 786.42 L1422.73 786.26 L1416.86 806.83 L1422.73 786.26 L1429.11 786.1 L1426.17 796.38 L1429.11 786.1 L1461 785.3 Z M1461 845.7 L1410.44 838.72 L1401.32 858.07 L1410.44 838.72 L1416.76 839.59 L1407.64 858.94 L1416.76 839.59 L1423.08 840.46 L1413.96 859.81 L1423.08 840.46 L1461 845.7 Z M1461 902 L1410.49 894.63 L1401.23 913.91 L1410.49 894.63 L1416.81 895.55 L1407.55 914.83 L1416.81 895.55 L1461 902 Z M1461 954.9 L1409.98 956.37 L1404.19 976.96 L1409.98 956.37 L1416.36 956.19 L1410.57 976.78 L1416.36 956.19 L1461 954.9 Z M1461 1005.3 L1411.53 1017.86 L1410.37 1039.22 L1411.53 1017.86 L1417.71 1016.29 L1417.13 1026.97 L1417.71 1016.29 L1461 1005.3 Z M1461 1052.8 L1414.74 1074.38 L1417.59 1095.58 L1414.74 1074.38 L1420.53 1071.68 L1421.95 1082.28 L1420.53 1071.68 L1461 1052.8 Z M1461 1097.8 L1414.22 1118.22 L1416.54 1139.48 L1414.22 1118.22 L1420.07 1115.66 L1422.39 1136.93 L1420.07 1115.66 L1461 1097.8 Z M1461 1140 L1413.17 1157.81 L1414.31 1179.17 L1413.17 1157.81 L1419.15 1155.59 L1420.29 1176.95 L1419.15 1155.59 L1461 1140 Z M1461 1180.3 L1410.5 1187.73 L1407.16 1208.85 L1410.5 1187.73 L1416.81 1186.8 L1413.47 1207.93 L1416.81 1186.8 L1423.13 1185.87 L1421.46 1196.43 L1423.13 1185.87 L1461 1180.3 Z M1461 1218.6 L1410.12 1214.58 L1402.15 1234.43 L1410.12 1214.58 L1416.48 1215.08 L1408.51 1234.93 L1416.48 1215.08 L1422.84 1215.59 L1418.85 1225.51 L1422.84 1215.59 L1461 1218.6 Z M1461 1254.8 L1409.96 1255.39 L1403.82 1275.88 L1409.96 1255.39 L1416.34 1255.32 L1410.2 1275.81 L1416.34 1255.32 L1461 1254.8 Z M1461 1287.8 L1410.05 1284.83 L1402.49 1304.84 L1410.05 1284.83 L1416.41 1285.2 L1412.63 1295.2 L1416.41 1285.2 L1461 1287.8 Z M1461 1319.7 L1414.74 1298.12 L1400.33 1313.93 L1414.74 1298.12 L1461 1319.7 Z M1461 1377.8 L1418.1 1350.14 L1401.68 1363.85 L1418.1 1350.14 L1461 1377.8 Z M1461 1404.4 L1418.15 1376.67 L1401.7 1390.35 L1418.15 1376.67 L1461 1404.4 Z M1461 1451.3 L1430.72 1410.21 L1436.39 1417.92 L1426.28 1421.41 L1436.39 1417.92 L1461 1451.3 Z M1461 1494.1 L1511.75 1488.65 L1502.23 1489.67 L1504.32 1479.18 L1502.23 1489.67 L1461 1494.1 Z M1461 1530.3 L1508.66 1548.56 L1499.73 1545.14 L1506.36 1536.75 L1499.73 1545.14 L1461 1530.3 Z M1461 1572.9 L1511.61 1579.49 L1502.12 1578.26 L1506.61 1568.55 L1502.12 1578.26 L1461 1572.9 Z M1461 1613.2 L1510.14 1599.4 L1510.77 1578.02 L1510.14 1599.4 L1461 1613.2 Z M1461 1636.3 L1510.67 1624.55 L1512.18 1603.22 L1510.67 1624.55 L1461 1636.3 Z" fill="#000" stroke="#000" stroke-width="2.3" stroke-linejoin="round"/>
<rect x="120.7" y="148.7" width="257.9" height="219.1" rx="4.2" fill="#fff" fill-opacity="0.8" stroke="#ccc" stroke-opacity="0.8" stroke-width="2.08"/>
<rect x="130" y="158.4" width="41.4" height="14.6" fill="#00ffff" fill-opacity="0.115" stroke="#00ffff" stroke-opacity="0.13" stroke-width="2"/>
<path d="M130 196 H171.4" stroke="#f00" stroke-width="6.25" stroke-linecap="square"/>
<path d="M130 227 H171.4" stroke="#008000" stroke-width="6.25" stroke-linecap="square"/>
<path d="M130 257 H171.4" stroke="#000" stroke-width="4.17" stroke-linecap="square"/>
<path d="M130 287.5 H171.4" stroke="#000" stroke-width="3.12" stroke-dasharray="11.56 5"/>
<rect x="130" y="310.75" width="41.4" height="14.6" fill="#d62728" fill-opacity="0.2"/>
<rect x="130" y="341.1" width="41.4" height="14.6" fill="#1f77b4" fill-opacity="0.2"/>
<text y="173.6" font-size="22.08" fill="#000"><tspan x="187.56" textLength="39.39" lengthAdjust="spacingAndGlyphs">Hail</tspan> <tspan x="233.99" textLength="75.22" lengthAdjust="spacingAndGlyphs">Growth</tspan> <tspan x="316.32" textLength="52.71" lengthAdjust="spacingAndGlyphs">Zone</tspan></text>
<text y="203.95" font-size="22.08" fill="#000"><tspan x="186.85" textLength="151.51" lengthAdjust="spacingAndGlyphs">TEMPERATURE</tspan></text>
<text y="234.3" font-size="22.08" fill="#000"><tspan x="187.71" textLength="113.4" lengthAdjust="spacingAndGlyphs">DEWPOINT</tspan></text>
<text y="264.65" font-size="22.08" fill="#000"><tspan x="187.84" textLength="26.71" lengthAdjust="spacingAndGlyphs">SB</tspan> <tspan x="221.97" textLength="78.33" lengthAdjust="spacingAndGlyphs">PARCEL</tspan> <tspan x="306.87" textLength="51.31" lengthAdjust="spacingAndGlyphs">PATH</tspan></text>
<text y="295" font-size="22.08" fill="#000"><tspan x="187.71" textLength="32.73" lengthAdjust="spacingAndGlyphs">MU</tspan> <tspan x="227.67" textLength="78.33" lengthAdjust="spacingAndGlyphs">PARCEL</tspan> <tspan x="312.57" textLength="51.31" lengthAdjust="spacingAndGlyphs">PATH</tspan></text>
<text y="325.35" font-size="22.08" fill="#000"><tspan x="187.85" textLength="80.7" lengthAdjust="spacingAndGlyphs">SBCAPE</tspan></text>
<text y="355.7" font-size="22.08" fill="#000"><tspan x="187.82" textLength="62.6" lengthAdjust="spacingAndGlyphs">SBCIN</tspan></text>
<g clip-path="url(#ch)" fill="none">
</g>
<g clip-path="url(#ch)">
<text y="571.2" font-size="22.08" font-weight="bold" fill="#000" fill-opacity="0.3"><tspan x="2056" textLength="28.26" lengthAdjust="spacingAndGlyphs">10</tspan></text>
<text y="517.18" font-size="22.08" font-weight="bold" fill="#000" fill-opacity="0.3"><tspan x="2001.97" textLength="28.26" lengthAdjust="spacingAndGlyphs">10</tspan></text>
<text y="571.2" font-size="22.08" font-weight="bold" fill="#000" fill-opacity="0.3"><tspan x="2109.98" textLength="28.3" lengthAdjust="spacingAndGlyphs">20</tspan></text>
<text y="463.15" font-size="22.08" font-weight="bold" fill="#000" fill-opacity="0.3"><tspan x="2001.93" textLength="28.3" lengthAdjust="spacingAndGlyphs">20</tspan></text>
<text y="571.2" font-size="22.08" font-weight="bold" fill="#000" fill-opacity="0.3"><tspan x="2164.06" textLength="28.25" lengthAdjust="spacingAndGlyphs">30</tspan></text>
<text y="409.13" font-size="22.08" font-weight="bold" fill="#000" fill-opacity="0.3"><tspan x="2001.99" textLength="28.25" lengthAdjust="spacingAndGlyphs">30</tspan></text>
<text y="571.2" font-size="22.08" font-weight="bold" fill="#000" fill-opacity="0.3"><tspan x="2217.88" textLength="28.47" lengthAdjust="spacingAndGlyphs">40</tspan></text>
<text y="355.1" font-size="22.08" font-weight="bold" fill="#000" fill-opacity="0.3"><tspan x="2001.78" textLength="28.47" lengthAdjust="spacingAndGlyphs">40</tspan></text>
<text y="571.2" font-size="22.08" font-weight="bold" fill="#000" fill-opacity="0.3"><tspan x="2272.16" textLength="28.2" lengthAdjust="spacingAndGlyphs">50</tspan></text>
<text y="301.08" font-size="22.08" font-weight="bold" fill="#000" fill-opacity="0.3"><tspan x="2002.04" textLength="28.2" lengthAdjust="spacingAndGlyphs">50</tspan></text>
<text y="571.2" font-size="22.08" font-weight="bold" fill="#000" fill-opacity="0.3"><tspan x="2325.75" textLength="28.65" lengthAdjust="spacingAndGlyphs">60</tspan></text>
<text y="247.05" font-size="22.08" font-weight="bold" fill="#000" fill-opacity="0.3"><tspan x="2001.6" textLength="28.65" lengthAdjust="spacingAndGlyphs">60</tspan></text>
<text y="571.2" font-size="22.08" font-weight="bold" fill="#000" fill-opacity="0.3"><tspan x="2379.65" textLength="28.78" lengthAdjust="spacingAndGlyphs">70</tspan></text>
<text y="193.03" font-size="22.08" font-weight="bold" fill="#000" fill-opacity="0.3"><tspan x="2001.47" textLength="28.78" lengthAdjust="spacingAndGlyphs">70</tspan></text>
</g>
<g clip-path="url(#ch)" fill="none">
<g stroke="#808080" stroke-opacity="0.5" stroke-width="3.12"><circle cx="2001.2" cy="573.2" r="108.05"/><circle cx="2001.2" cy="573.2" r="216.1"/><circle cx="2001.2" cy="573.2" r="324.15"/><circle cx="2001.2" cy="573.2" r="432.2"/><circle cx="2001.2" cy="573.2" r="540.25"/><path d="M1569 573.5 H2433.4 M2001.5 141 V1005.4"/></g>
<g stroke="#808080" stroke-opacity="0.2" stroke-width="2.08" stroke-dasharray="7.71 3.33"><circle cx="2001.2" cy="573.2" r="54.02"/><circle cx="2001.2" cy="573.2" r="108.05"/><circle cx="2001.2" cy="573.2" r="162.07"/><circle cx="2001.2" cy="573.2" r="216.1"/><circle cx="2001.2" cy="573.2" r="270.12"/><circle cx="2001.2" cy="573.2" r="324.15"/><circle cx="2001.2" cy="573.2" r="378.18"/><circle cx="2001.2" cy="573.2" r="432.2"/><circle cx="2001.2" cy="573.2" r="486.22"/><circle cx="2001.2" cy="573.2" r="540.25"/><circle cx="2001.2" cy="573.2" r="594.27"/><path d="M1569 573 H2433.4 M2001 1005.4 V141"/></g>
<path d="M1948.55 588 L1954.5 584.2" stroke="#f00" stroke-width="12.5" stroke-linecap="butt"/>
<path d="M1941 589.3 L1952.9 581.7 M1952.9 581.7 L1966.4 573.6 M1966.4 573.6 L1965.3 558 M1965.3 558 L1968.1 563.5 M1968.1 563.5 L1970.7 571.1 M1970.7 571.1 L1999.7 595 M1999.7 595 L2010.5 598.6" stroke="#008000" stroke-width="12.5" stroke-linecap="butt"/>
<path d="M2010.5 598.6 L2022.4 603.7 M2022.4 603.7 L2036.8 602 M2036.8 602 L2044.4 600.8 M2044.4 600.8 L2052 598.6 M2052 598.6 L2074.1 578.3 M2074.1 578.3 L2098.7 571.1 M2098.7 571.1 L2113.2 573.3 M2113.2 573.3 L2132.1 576.9" stroke="#ff0" stroke-width="12.5" stroke-linecap="butt"/>
<path d="M2129.2 576.2 L2133.5 550 M2133.5 550 L2107.4 526.8 M2107.4 526.8 L2083.4 531.9 M2083.4 531.9 L2087.8 550 M2087.8 550 L2107.4 570.3" stroke="#00f" stroke-width="12.5" stroke-linecap="butt"/>
<path d="M2107 570.3 L2107 587.2 M2107 587.2 L2151 592.6 M2151 592.6 L2181 568.5 M2181 568.5 L2210.6 514.2 M2210.6 514.2 L2217.9 445.8" stroke="#f0f" stroke-width="12.5" stroke-linecap="butt"/>
</g>
<g clip-path="url(#ch)">
<path d="M1999.2 573.2 L2002.1 522.5 L2006.3 522.8 L2003.4 573.2 Z" fill="#000" fill-opacity="0.3"/>
<path d="M1997.5 522.6 L2005.8 501.8 L2011 523.2 Z" fill="#000" fill-opacity="0.25" stroke="#000" stroke-opacity="0.3" stroke-width="2" stroke-linejoin="miter"/>
<text y="511.4" font-size="27.56" font-weight="bold" fill="#000" fill-opacity="0.6"><tspan x="2016.73" textLength="41.43" lengthAdjust="spacingAndGlyphs">LM</tspan></text>
</g>
<rect x="1569" y="141" width="864" height="864" fill="none" stroke="#000" stroke-width="1.67"/>
<rect x="1579" y="150.7" width="267.9" height="66.8" rx="4.2" fill="#fff" fill-opacity="0.8" stroke="#ccc" stroke-opacity="0.8" stroke-width="2.08"/>
<rect x="1588.4" y="162.2" width="41.4" height="12.6" fill="#1f77b4"/>
<rect x="1588.3" y="191.2" width="41.7" height="14.6" fill="#000" fill-opacity="0.3" stroke="#000" stroke-opacity="0.3" stroke-width="3.1"/>
<text y="175.9" font-size="22.08" fill="#000"><tspan x="1646.16" textLength="79.04" lengthAdjust="spacingAndGlyphs">0-12km</tspan> <tspan x="1732.61" textLength="57.49" lengthAdjust="spacingAndGlyphs">WIND</tspan></text>
<text y="206.6" font-size="22.08" fill="#000"><tspan x="1645.86" textLength="83.91" lengthAdjust="spacingAndGlyphs">Bunkers</tspan> <tspan x="1736.91" textLength="28.96" lengthAdjust="spacingAndGlyphs">LM</tspan> <tspan x="1772.87" textLength="66.68" lengthAdjust="spacingAndGlyphs">Vector</tspan></text>
<rect x="1542" y="1059" width="918" height="720" fill="#fff" stroke="#000" stroke-width="2"/>
<text y="1113.9" font-size="28.71" font-weight="bold" fill="#000"><tspan x="1570.92" textLength="128.75" lengthAdjust="spacingAndGlyphs">SBCAPE:</tspan></text>
<text y="1113.9" font-size="28.71" font-weight="bold" fill="#ff4500"><tspan x="1731.93" textLength="19.01" lengthAdjust="spacingAndGlyphs">0</tspan> <tspan x="1758.33" textLength="59.06" lengthAdjust="spacingAndGlyphs">J/kg</tspan></text>
<text y="1185.88" font-size="28.71" font-weight="bold" fill="#000"><tspan x="1570.89" textLength="102.32" lengthAdjust="spacingAndGlyphs">SBCIN:</tspan></text>
<text y="1185.88" font-size="28.71" font-weight="bold" fill="#add8e6"><tspan x="1731.93" textLength="19.01" lengthAdjust="spacingAndGlyphs">0</tspan> <tspan x="1758.33" textLength="59.06" lengthAdjust="spacingAndGlyphs">J/kg</tspan></text>
<text y="1257.86" font-size="28.71" font-weight="bold" fill="#000"><tspan x="1570.39" textLength="133.4" lengthAdjust="spacingAndGlyphs">MLCAPE:</tspan></text>
<text y="1257.86" font-size="28.71" font-weight="bold" fill="#ff4500"><tspan x="1731.93" textLength="19.01" lengthAdjust="spacingAndGlyphs">0</tspan> <tspan x="1758.33" textLength="59.06" lengthAdjust="spacingAndGlyphs">J/kg</tspan></text>
<text y="1329.83" font-size="28.71" font-weight="bold" fill="#000"><tspan x="1570.31" textLength="107.05" lengthAdjust="spacingAndGlyphs">MLCIN:</tspan></text>
<text y="1329.83" font-size="28.71" font-weight="bold" fill="#add8e6"><tspan x="1731.93" textLength="19.01" lengthAdjust="spacingAndGlyphs">0</tspan> <tspan x="1758.33" textLength="59.06" lengthAdjust="spacingAndGlyphs">J/kg</tspan></text>
<text y="1401.81" font-size="28.71" font-weight="bold" fill="#000"><tspan x="1570.37" textLength="138.19" lengthAdjust="spacingAndGlyphs">MUCAPE:</tspan></text>
<text y="1401.81" font-size="28.71" font-weight="bold" fill="#ff4500"><tspan x="1731.93" textLength="19.01" lengthAdjust="spacingAndGlyphs">0</tspan> <tspan x="1758.33" textLength="59.06" lengthAdjust="spacingAndGlyphs">J/kg</tspan></text>
<text y="1473.79" font-size="28.71" font-weight="bold" fill="#000"><tspan x="1570.28" textLength="111.84" lengthAdjust="spacingAndGlyphs">MUCIN:</tspan></text>
<text y="1473.79" font-size="28.71" font-weight="bold" fill="#add8e6"><tspan x="1731.93" textLength="19.01" lengthAdjust="spacingAndGlyphs">0</tspan> <tspan x="1758.33" textLength="59.06" lengthAdjust="spacingAndGlyphs">J/kg</tspan></text>
<text y="1545.77" font-size="28.71" font-weight="bold" fill="#000"><tspan x="1570.4" textLength="111.65" lengthAdjust="spacingAndGlyphs">DCAPE:</tspan></text>
<text y="1545.77" font-size="28.71" font-weight="bold" fill="#ff4500"><tspan x="1732.53" textLength="55.35" lengthAdjust="spacingAndGlyphs">617</tspan> <tspan x="1796.02" textLength="59.06" lengthAdjust="spacingAndGlyphs">J/kg</tspan></text>
<text y="1617.74" font-size="28.71" font-weight="bold" fill="#000"><tspan x="1570.33" textLength="134.66" lengthAdjust="spacingAndGlyphs">K-INDEX:</tspan></text>
<text y="1617.74" font-size="28.71" font-weight="bold" fill="#ff4500"><tspan x="1732.43" textLength="17.7" lengthAdjust="spacingAndGlyphs">7</tspan> <tspan x="1761.4" textLength="31.36" lengthAdjust="spacingAndGlyphs">°C</tspan></text>
<text y="1689.72" font-size="28.71" font-weight="bold" fill="#000"><tspan x="1570.3" textLength="37.58" lengthAdjust="spacingAndGlyphs">LI:</tspan></text>
<text y="1689.72" font-size="28.71" font-weight="bold" fill="#000"><tspan x="1732.95" textLength="46.29" lengthAdjust="spacingAndGlyphs">2.8</tspan></text>
<text y="1761.7" font-size="28.71" font-weight="bold" fill="#000"><tspan x="1570.86" textLength="39.26" lengthAdjust="spacingAndGlyphs">SI:</tspan></text>
<text y="1761.7" font-size="28.71" font-weight="bold" fill="#000"><tspan x="1733.06" textLength="47.01" lengthAdjust="spacingAndGlyphs">5.0</tspan></text>
<text y="1113.9" font-size="28.71" font-weight="bold" fill="#000"><tspan x="1920.38" textLength="95.1" lengthAdjust="spacingAndGlyphs">0-1km</tspan> <tspan x="2026.08" textLength="72.58" lengthAdjust="spacingAndGlyphs">SRH:</tspan></text>
<text y="1113.9" font-size="28.71" font-weight="bold" fill="#000080"><tspan x="2137.99" textLength="16.72" lengthAdjust="spacingAndGlyphs">3</tspan> <tspan x="2165.25" textLength="77.04" lengthAdjust="spacingAndGlyphs">m²/s²</tspan></text>
<text y="1194.88" font-size="28.71" font-weight="bold" fill="#000"><tspan x="1920.38" textLength="95.1" lengthAdjust="spacingAndGlyphs">0-1km</tspan> <tspan x="2026.08" textLength="72.58" lengthAdjust="spacingAndGlyphs">SHR:</tspan></text>
<text y="1194.88" font-size="28.71" font-weight="bold" fill="#0000ff"><tspan x="2137.69" textLength="16.93" lengthAdjust="spacingAndGlyphs">4</tspan> <tspan x="2165.27" textLength="36.95" lengthAdjust="spacingAndGlyphs">kn</tspan></text>
<text y="1275.85" font-size="28.71" font-weight="bold" fill="#000"><tspan x="1920.38" textLength="95.1" lengthAdjust="spacingAndGlyphs">0-3km</tspan> <tspan x="2026.08" textLength="72.58" lengthAdjust="spacingAndGlyphs">SRH:</tspan></text>
<text y="1275.85" font-size="28.71" font-weight="bold" fill="#000080"><tspan x="2137.08" textLength="48" lengthAdjust="spacingAndGlyphs">-68</tspan> <tspan x="2195.34" textLength="77.04" lengthAdjust="spacingAndGlyphs">m²/s²</tspan></text>
<text y="1356.83" font-size="28.71" font-weight="bold" fill="#000"><tspan x="1920.38" textLength="95.1" lengthAdjust="spacingAndGlyphs">0-6km</tspan> <tspan x="2026.08" textLength="72.58" lengthAdjust="spacingAndGlyphs">SHR:</tspan></text>
<text y="1356.83" font-size="28.71" font-weight="bold" fill="#0000ff"><tspan x="2137.92" textLength="36.72" lengthAdjust="spacingAndGlyphs">30</tspan> <tspan x="2184.12" textLength="36.95" lengthAdjust="spacingAndGlyphs">kn</tspan></text>
<text y="1437.8" font-size="28.71" font-weight="bold" fill="#000"><tspan x="1921.5" textLength="50.54" lengthAdjust="spacingAndGlyphs">SIG</tspan> <tspan x="1981.39" textLength="95.97" lengthAdjust="spacingAndGlyphs">TORN:</tspan></text>
<text y="1437.8" font-size="28.71" font-weight="bold" fill="#ff4500"><tspan x="2137.04" textLength="59.19" lengthAdjust="spacingAndGlyphs">-0.0</tspan></text>
<text y="1518.78" font-size="28.71" font-weight="bold" fill="#000"><tspan x="1921.52" textLength="68.66" lengthAdjust="spacingAndGlyphs">SCP:</tspan></text>
<text y="1518.78" font-size="28.71" font-weight="bold" fill="#ff4500"><tspan x="2136.82" textLength="48.18" lengthAdjust="spacingAndGlyphs">0.0</tspan></text>
<text y="1599.75" font-size="28.71" font-weight="bold" fill="#000"><tspan x="1921.07" textLength="37.43" lengthAdjust="spacingAndGlyphs">LR</tspan> <tspan x="1968.29" textLength="134.98" lengthAdjust="spacingAndGlyphs">700-500:</tspan></text>
<text y="1599.75" font-size="28.71" font-weight="bold" fill="#ff4500"><tspan x="2137.22" textLength="47.77" lengthAdjust="spacingAndGlyphs">7.0</tspan> <tspan x="2193.19" textLength="180.82" lengthAdjust="spacingAndGlyphs">Δ°C·K/km/m</tspan></text>
<text y="1680.72" font-size="28.71" font-weight="bold" fill="#000"><tspan x="1921.1" textLength="53.73" lengthAdjust="spacingAndGlyphs">LCL</tspan> <tspan x="1984.82" textLength="71.42" lengthAdjust="spacingAndGlyphs">HGT:</tspan></text>
<text y="1680.72" font-size="28.71" font-weight="bold" fill="#ff4500"><tspan x="2137.34" textLength="80.44" lengthAdjust="spacingAndGlyphs">[569]</tspan> <tspan x="2227.76" textLength="27.91" lengthAdjust="spacingAndGlyphs">m</tspan></text>
<text y="1761.7" font-size="28.71" font-weight="bold" fill="#000"><tspan x="1920.92" textLength="59.08" lengthAdjust="spacingAndGlyphs">PW:</tspan></text>
<text y="1761.7" font-size="28.71" font-weight="bold" fill="#000080"><tspan x="2137.87" textLength="65.21" lengthAdjust="spacingAndGlyphs">18.7</tspan> <tspan x="2213.28" textLength="56.15" lengthAdjust="spacingAndGlyphs">mm</tspan></text>
</svg>
</body></html>
